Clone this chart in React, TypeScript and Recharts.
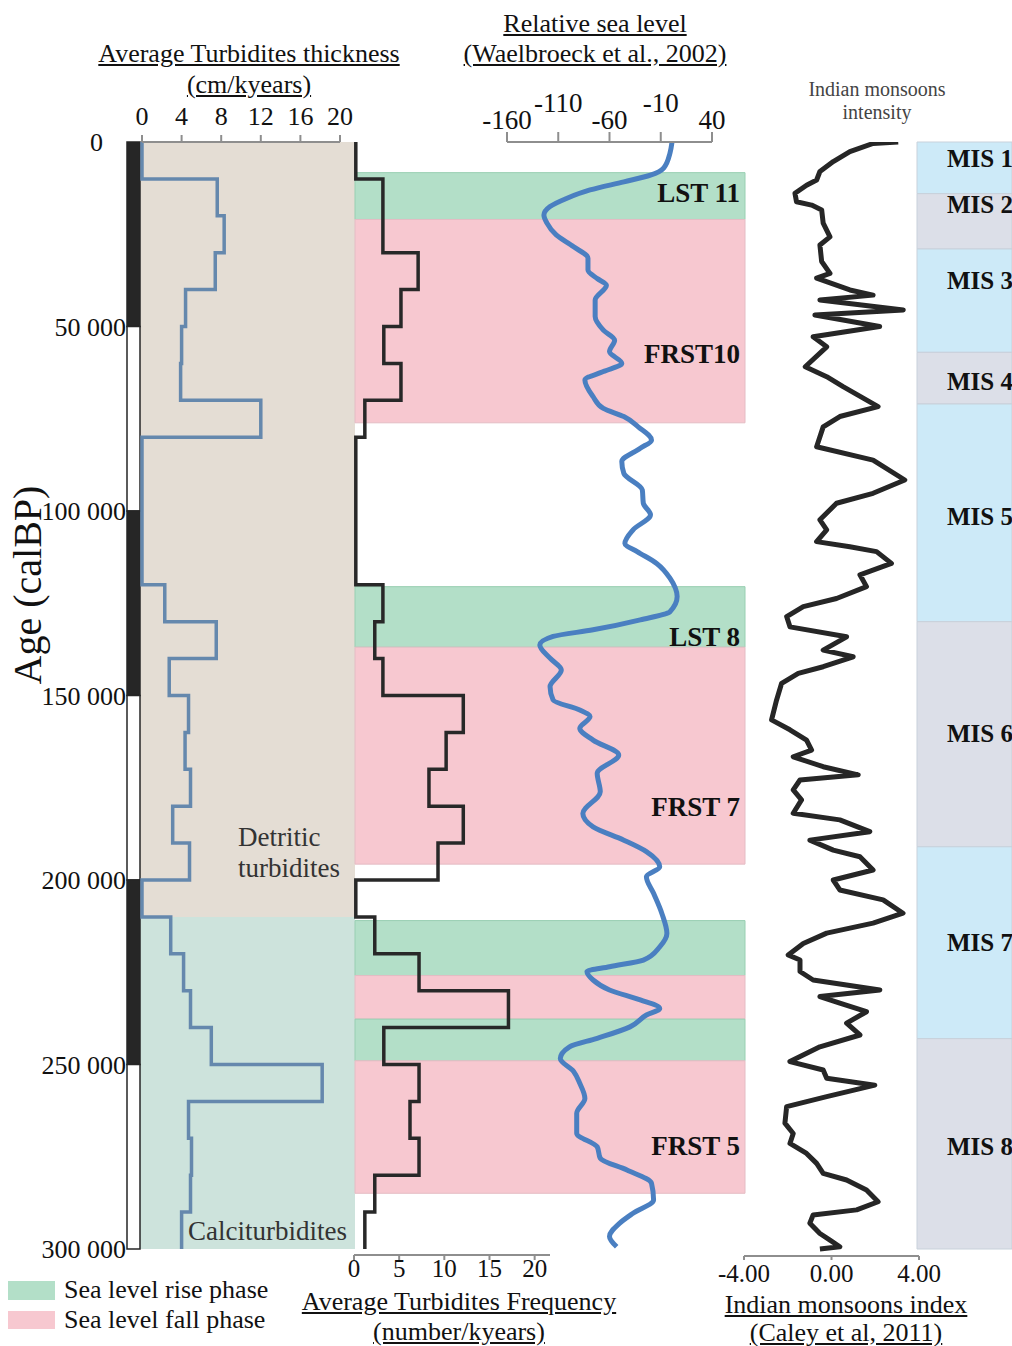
import React from "react";
import {
  ComposedChart,
  Line,
  XAxis,
  YAxis,
  ReferenceArea,
  ReferenceLine,
} from "recharts";

const W = 1012;
const H = 1346;
const TOP = 142; // y of age 0
const BOTTOM = 1249; // y of age 300 000
const AGE_MAX = 300000;
const serif = '"Liberation Serif", "Times New Roman", serif';

// ---- age axis / chronology bar ----
const ageTicks = [0, 50000, 100000, 150000, 200000, 250000, 300000];
const chronoBlocks = [
  { from: 0, to: 50000, dark: true },
  { from: 50000, to: 100000, dark: false },
  { from: 100000, to: 150000, dark: true },
  { from: 150000, to: 200000, dark: false },
  { from: 200000, to: 250000, dark: true },
  { from: 250000, to: 300000, dark: false },
];

// ---- lithology background ----
const lithology = [
  { name: "Detritic turbidites", from: 0, to: 210000 },
  { name: "Calciturbidites", from: 210000, to: 300000 },
];

// ---- 10 kyr bins ----
const binEdges = [
  0, 10000, 20000, 30000, 40000, 50000, 60000, 70000, 80000, 90000, 100000,
  110000, 120000, 130000, 140000, 150000, 160000, 170000, 180000, 190000,
  200000, 210000, 220000, 230000, 240000, 250000, 260000, 270000, 280000,
  290000, 300000,
];
// cm/kyears
const thickness = [
  0, 7.6, 8.3, 7.4, 4.4, 4.0, 3.9, 12.0, 0, 0, 0, 0, 2.3, 7.5, 2.75, 4.7, 4.35,
  4.9, 3.1, 4.8, 0, 2.9, 4.2, 4.9, 7.0, 18.2, 4.7, 5.0, 4.9, 4.0,
];
// number/kyears
const frequency = [
  0.2, 3.2, 3.2, 7.1, 5.2, 3.3, 5.2, 1.2, 0.2, 0.2, 0.2, 0.2, 3.2, 2.3, 3.2,
  12.1, 10.2, 8.3, 12.1, 9.3, 0.2, 2.3, 7.2, 17.1, 3.3, 7.2, 6.2, 7.2, 2.3, 1.2,
];

// ---- sea level phases ----
const seqBands = [
  { phase: "rise", from: 8300, to: 21000 },
  { phase: "fall", from: 21000, to: 76100 },
  { phase: "rise", from: 120500, to: 136900 },
  { phase: "fall", from: 136900, to: 195700 },
  { phase: "rise", from: 211000, to: 225900 },
  { phase: "fall", from: 225900, to: 237700 },
  { phase: "rise", from: 237700, to: 249000 },
  { phase: "fall", from: 249000, to: 284900 },
];
const seqLabels = [
  { name: "LST 11", age: 13600 },
  { name: "FRST10", age: 57200 },
  { name: "LST 8", age: 134000 },
  { name: "FRST 7", age: 180000 },
  { name: "FRST 5", age: 271800 },
];

// ---- relative sea level (Waelbroeck et al., 2002) ----
const seaAge = [
  0, 3000, 7000, 9000, 10800, 13000, 15300, 17500, 19800, 22000, 25200, 28400,
  31500, 34700, 37000, 38800, 42800, 47300, 51000, 53700, 56800, 60000, 62200,
  64500, 69000, 72200, 74400, 77200, 80800, 83000, 86600, 89800, 94300, 97900,
  101000, 105100, 108800, 111000, 114200, 118200, 123200, 127300, 129500,
  132200, 134000, 136300, 139900, 143100, 147600, 151200, 153900, 155700,
  158900, 162100, 166100, 171100, 176100, 182000, 185600, 189200, 192300,
  196400, 199100, 203600, 209000, 214500, 218100, 221700, 223500, 224800,
  227100, 229800, 232500, 234800, 236600, 239800, 242900, 245200, 248400,
  251900, 255100, 259200, 263200, 268600, 272300, 275400, 278600, 282200,
  286700, 290300, 293000, 296600, 299400,
];
const seaLevel = [
  1, -1, -7, -20, -46, -79, -102, -118, -124, -121, -112, -95, -81, -81, -72,
  -63, -74, -74, -66, -55, -60, -48, -66, -84, -76, -66, -46, -32, -19, -30,
  -48, -46, -28, -27, -20, -37, -45, -33, -14, -1, 6, -1, -30, -76, -115, -128,
  -118, -107, -118, -115, -89, -79, -89, -76, -51, -72, -69, -86, -76, -46,
  -24, -11, -24, -17, -9, -4, -11, -27, -60, -82, -76, -60, -30, -11, -24, -40,
  -72, -99, -108, -95, -89, -84, -92, -92, -72, -69, -43, -19, -17, -37, -50,
  -60, -53,
];

// ---- Indian monsoon index (Caley et al, 2011) ----
const monsoonAge = [
  0, 400, 2600, 5300, 8000, 10300, 11700, 13900, 16200, 17100, 18400, 22000,
  25700, 27900, 32400, 35600, 36900, 40100, 41500, 42800, 45500, 46900, 50000,
  52800, 55500, 60900, 63600, 66300, 71700, 74400, 77200, 82600, 86200, 91600,
  95200, 97900, 102400, 105100, 108300, 109700, 111000, 114200, 117300, 120500,
  123700, 125900, 128600, 131400, 134100, 137700, 139500, 142200, 144000,
  146700, 151200, 156600, 159300, 162100, 164800, 166600, 169300, 171500,
  172900, 175600, 178300, 181900, 183700, 186900, 189200, 191900, 193700,
  197300, 200000, 202700, 205400, 209000, 211700, 214400, 217200, 220300,
  221700, 224800, 227100, 229800, 231600, 233400, 235700, 238800, 242000,
  245200, 249200, 251500, 253700, 255600, 258700, 261400, 265900, 268700,
  271400, 274100, 276800, 279500, 281300, 284000, 287200, 289400, 290800,
  293000, 295800, 297600, 299400, 300000,
];
const monsoonIdx = [
  3.05, 1.9, 0.84, 0.08, -0.53, -0.68, -1.14, -1.67, -1.6, -0.91, -0.45, -0.38,
  -0.07, -0.53, -0.45, -0.07, -0.68, 0.84, 1.9, -0.53, 3.28, -0.76, 2.2, -0.84,
  -0.22, -1.2, -0.22, 0.53, 2.13, 0.38, -0.38, -0.68, 1.9, 3.35, 1.9, 0.23,
  -0.53, -0.22, -0.68, 0.84, 2.06, 2.74, 1.3, 1.6, 0.23, -1.29, -2.05, -1.9,
  0.69, -0.38, 0.99, -0.38, -1.52, -2.28, -2.51, -2.74, -1.9, -1.14, -0.91,
  -1.75, -0.38, 1.22, -1.44, -1.75, -1.37, -1.75, 0.38, 1.75, -0.99, 0.08, 1.3,
  1.9, 0.08, 0.38, 2.36, 3.27, 1.9, -0.22, -1.29, -1.98, -1.44, -1.44, -0.84,
  2.21, -0.53, 0.38, 1.6, 0.69, 1.3, -0.53, -1.9, -0.38, -0.22, 1.98, -0.22,
  -2.05, -2.13, -1.75, -1.9, -1.14, -0.68, -0.38, 0.69, 1.6, 2.13, 1.15, -0.84,
  -0.99, -0.53, -0.07, 0.38, -0.53,
];

// ---- marine isotope stages ----
const misStages = [
  { name: "MIS 1", from: 0, to: 14000 },
  { name: "MIS 2", from: 14000, to: 29000 },
  { name: "MIS 3", from: 29000, to: 57000 },
  { name: "MIS 4", from: 57000, to: 71000 },
  { name: "MIS 5", from: 71000, to: 130000 },
  { name: "MIS 6", from: 130000, to: 191000 },
  { name: "MIS 7", from: 191000, to: 243000 },
  { name: "MIS 8", from: 243000, to: 300000 },
];
const misLabelAge = [4300, 16800, 37400, 64800, 101400, 160200, 216800, 272000];

// ---- derived tables ----
const stepRows = (values: number[]) => {
  const rows: { age: number; v: number }[] = [];
  values.forEach((v, i) => {
    rows.push({ age: binEdges[i], v });
    rows.push({ age: binEdges[i + 1], v });
  });
  return rows;
};
const thicknessRows = stepRows(thickness);
const frequencyRows = stepRows(frequency);
const seaRows = seaAge.map((age, i) => ({ age, v: seaLevel[i] }));
const monsoonRows = monsoonAge.map((age, i) => ({ age, v: monsoonIdx[i] }));
const ageRows = chronoBlocks.map((b) => ({ age: b.from, v: 0.5 }));

const phaseFill: Record<string, string> = { rise: "#b3dfc8", fall: "#f7c8d0" };
const phaseStroke: Record<string, string> = { rise: "#98cfb2", fall: "#e4bcc4" };
const lithoFill = ["#e4ddd4", "#cde3dc"];
const misFill = ["#cdeaf8", "#dcdfe8"];

const fmtAge = (v: number) => String(v).replace(/\B(?=(\d{3})+(?!\d))/g, " ");

// plot area in page pixels -> chart margin
const box = (
  left: number,
  right: number,
  top = TOP,
  bottom = BOTTOM
) => ({ left, right: W - right, top, bottom: H - bottom });

const layer: React.CSSProperties = { position: "absolute", left: 0, top: 0 };
const axisStroke = { stroke: "#8e8e8e", strokeWidth: 2 };

const AgeTick = (p: any) => {
  const v = p.payload.value;
  return (
    <text
      x={v === 0 ? p.x - 23 : p.x}
      y={p.y + 9}
      textAnchor="end"
      fontSize={26}
      fontFamily={serif}
      fill="#111"
    >
      {fmtAge(v)}
    </text>
  );
};

const TopTick = (p: any) => (
  <text x={p.x} y={p.y} textAnchor="middle" fontSize={26} fontFamily={serif} fill="#111">
    {p.payload.value}
  </text>
);

const SeaTick = (p: any) => (
  <text
    x={p.x}
    y={p.index % 2 === 1 ? p.y - 17 : p.y}
    textAnchor="middle"
    fontSize={27}
    fontFamily={serif}
    fill="#111"
  >
    {p.payload.value}
  </text>
);

const FreqTick = (p: any) => (
  <text x={p.x} y={p.y + 15} textAnchor="middle" fontSize={25} fontFamily={serif} fill="#111">
    {p.payload.value}
  </text>
);

const MonsoonTick = (p: any) => (
  <text x={p.x} y={p.y + 20} textAnchor="middle" fontSize={25} fontFamily={serif} fill="#111">
    {Number(p.payload.value).toFixed(2)}
  </text>
);

const AgeAxis = ({ max = AGE_MAX }: { max?: number }) => (
  <YAxis type="number" dataKey="age" domain={[0, max]} allowDataOverflow hide />
);

// hidden 0..1 x axis + invisible series, used by the background layers
const BgAxes = () => [
  <XAxis key="x" type="number" domain={[0, 1]} allowDataOverflow hide />,
  <YAxis key="y" type="number" dataKey="age" domain={[0, AGE_MAX]} allowDataOverflow hide />,
  <Line key="l" dataKey="v" stroke="none" dot={false} isAnimationActive={false} />,
];

const Txt = ({
  x,
  y,
  lines,
  size = 26,
  lh = 30,
  underline = false,
  align = "center",
  color = "#111",
}: {
  x: number;
  y: number;
  lines: string[];
  size?: number;
  lh?: number;
  underline?: boolean;
  align?: "center" | "left";
  color?: string;
}) => (
  <div
    style={{
      position: "absolute",
      left: align === "center" ? x - 250 : x,
      top: y - lh / 2,
      width: align === "center" ? 500 : 400,
      textAlign: align,
      fontFamily: serif,
      fontSize: size,
      lineHeight: `${lh}px`,
      color,
      whiteSpace: "nowrap",
    }}
  >
    {lines.map((l) => (
      <div key={l}>
        <span style={{ textDecoration: underline ? "underline" : "none", textUnderlineOffset: 2 }}>
          {l}
        </span>
      </div>
    ))}
  </div>
);

export default function App() {
  const freqAxisY = 1255;
  const monsoonAxisY = 1256;
  const freqMax = (AGE_MAX * (freqAxisY - TOP)) / (BOTTOM - TOP);
  const monsoonMax = (AGE_MAX * (monsoonAxisY - TOP)) / (BOTTOM - TOP);

  return (
    <div
      style={{
        position: "absolute",
        left: 0,
        top: 0,
        width: W,
        height: H,
        background: "#fff",
        overflow: "hidden",
      }}
    >
      {/* lithology background */}
      <div style={layer}>
        <ComposedChart layout="vertical" width={W} height={H} data={ageRows} margin={box(140, 355)}>
          {BgAxes()}
          {lithology.map((l, i) => (
            <ReferenceArea
              key={l.name}
              y1={l.from}
              y2={l.to}
              fill={lithoFill[i]}
              fillOpacity={1}
              stroke="none"
              ifOverflow="visible"
            />
          ))}
        </ComposedChart>
      </div>

      {/* sea level phase bands */}
      <div style={layer}>
        <ComposedChart layout="vertical" width={W} height={H} data={ageRows} margin={box(355, 745)}>
          {BgAxes()}
          {seqBands.map((b) => (
            <ReferenceArea
              key={b.from}
              y1={b.from}
              y2={b.to}
              fill={phaseFill[b.phase]}
              fillOpacity={1}
              stroke={phaseStroke[b.phase]}
              strokeWidth={1}
              ifOverflow="visible"
            />
          ))}
          {seqLabels.map((s) => (
            <ReferenceLine
              key={s.name}
              y={s.age}
              stroke="none"
              ifOverflow="visible"
              label={{
                value: s.name,
                position: "insideRight",
                offset: 5,
                fontSize: 27,
                fontWeight: "bold",
                fontFamily: serif,
                fill: "#111",
              }}
            />
          ))}
        </ComposedChart>
      </div>

      {/* MIS bands */}
      <div style={layer}>
        <ComposedChart layout="vertical" width={W} height={H} data={ageRows} margin={box(917, W)}>
          {BgAxes()}
          {misStages.map((m, i) => (
            <ReferenceArea
              key={m.name}
              y1={m.from}
              y2={m.to}
              fill={misFill[i % 2]}
              fillOpacity={1}
              stroke="#c8d1db"
              strokeWidth={1}
              ifOverflow="visible"
            />
          ))}
          {misStages.map((m, i) => (
            <ReferenceLine
              key={m.name + "l"}
              y={misLabelAge[i]}
              stroke="none"
              ifOverflow="visible"
              label={{
                value: m.name,
                position: "insideLeft",
                offset: 30,
                fontSize: 25,
                fontWeight: "bold",
                fontFamily: serif,
                fill: "#111",
              }}
            />
          ))}
        </ComposedChart>
      </div>

      {/* chronology bar + age axis */}
      <div style={layer}>
        <ComposedChart layout="vertical" width={W} height={H} data={ageRows} margin={box(0, 140)}>
          <XAxis type="number" domain={[0, 1]} allowDataOverflow hide />
          <YAxis
            type="number"
            dataKey="age"
            domain={[0, AGE_MAX]}
            allowDataOverflow
            width={127}
            ticks={ageTicks}
            interval={0}
            tickLine={false}
            axisLine={false}
            tickSize={0}
            tickMargin={1}
            tick={AgeTick}
          />
          <Line dataKey="v" stroke="none" dot={false} isAnimationActive={false} />
          {chronoBlocks.map((b) => (
            <ReferenceArea
              key={b.from}
              y1={b.from}
              y2={b.to}
              fill={b.dark ? "#262626" : "#ffffff"}
              fillOpacity={1}
              stroke="#262626"
              strokeWidth={1.5}
              ifOverflow="visible"
            />
          ))}
        </ComposedChart>
      </div>

      {/* turbidite thickness */}
      <div style={layer}>
        <ComposedChart layout="vertical" width={W} height={H} data={thicknessRows} margin={box(142, 340, TOP - 40)}>
          <XAxis
            type="number"
            orientation="top"
            domain={[0, 20]}
            ticks={[0, 4, 8, 12, 16, 20]}
            interval={0}
            height={40}
            axisLine={axisStroke}
            tickLine={axisStroke}
            tickSize={7}
            tickMargin={10}
            tick={TopTick}
          />
          <AgeAxis />
          <Line
            dataKey="v"
            type="linear"
            stroke="#6588ad"
            strokeWidth={3.5}
            dot={false}
            isAnimationActive={false}
          />
        </ComposedChart>
      </div>

      {/* turbidite frequency */}
      <div style={layer}>
        <ComposedChart
          layout="vertical"
          width={W}
          height={H}
          data={frequencyRows}
          margin={{ ...box(354, 550), bottom: H - freqAxisY - 40 }}
        >
          <XAxis
            type="number"
            orientation="bottom"
            domain={[0, 21.7]}
            ticks={[0, 5, 10, 15, 20]}
            interval={0}
            height={40}
            axisLine={axisStroke}
            tickLine={axisStroke}
            tickSize={5}
            tickMargin={2}
            tick={FreqTick}
          />
          <AgeAxis max={freqMax} />
          <Line
            dataKey="v"
            type="linear"
            stroke="#282828"
            strokeWidth={3.5}
            dot={false}
            isAnimationActive={false}
          />
        </ComposedChart>
      </div>

      {/* relative sea level */}
      <div style={layer}>
        <ComposedChart layout="vertical" width={W} height={H} data={seaRows} margin={box(507, 712, TOP - 50)}>
          <XAxis
            type="number"
            orientation="top"
            domain={[-160, 40]}
            ticks={[-160, -110, -60, -10, 40]}
            interval={0}
            height={50}
            axisLine={axisStroke}
            tickLine={axisStroke}
            tickSize={10}
            tickMargin={3}
            tick={SeaTick}
          />
          <AgeAxis />
          <Line
            dataKey="v"
            type="monotone"
            stroke="#4a7fc1"
            strokeWidth={5}
            dot={false}
            isAnimationActive={false}
          />
        </ComposedChart>
      </div>

      {/* monsoon index */}
      <div style={layer}>
        <ComposedChart
          layout="vertical"
          width={W}
          height={H}
          data={monsoonRows}
          margin={{ ...box(744, 919), bottom: H - monsoonAxisY - 40 }}
        >
          <XAxis
            type="number"
            orientation="bottom"
            domain={[-4, 4]}
            ticks={[-4, 0, 4]}
            interval={0}
            height={40}
            axisLine={axisStroke}
            tickLine={axisStroke}
            tickSize={4}
            tickMargin={2}
            tick={MonsoonTick}
          />
          <AgeAxis max={monsoonMax} />
          <Line
            dataKey="v"
            type="linear"
            stroke="#262626"
            strokeWidth={5}
            strokeLinejoin="round"
            dot={false}
            isAnimationActive={false}
          />
        </ComposedChart>
      </div>

      {/* titles and annotations */}
      <Txt x={249} y={53} lines={["Average Turbidites thickness", "(cm/kyears)"]} lh={31} underline />
      <Txt x={595} y={24} lines={["Relative sea level", "(Waelbroeck et al., 2002)"]} lh={30} underline />
      <Txt x={877} y={89} lines={["Indian monsoons", "intensity"]} size={20} lh={23} color="#444" />
      <Txt x={459} y={1302} lines={["Average Turbidites Frequency", "(number/kyears)"]} lh={30} underline />
      <Txt x={846} y={1305} lines={["Indian monsoons index", "(Caley et al, 2011)"]} lh={28} underline />
      <Txt x={238} y={837} lines={["Detritic", "turbidites"]} size={27} lh={31} align="left" color="#333" />
      <Txt x={188} y={1231} lines={["Calciturbidites"]} size={27} lh={30} align="left" color="#333" />

      <div
        style={{
          position: "absolute",
          left: 28 - 150,
          top: 585 - 22,
          width: 300,
          height: 44,
          lineHeight: "44px",
          textAlign: "center",
          fontFamily: serif,
          fontSize: 40,
          color: "#111",
          transform: "rotate(-90deg)",
        }}
      >
        Age (calBP)
      </div>

      {/* legend */}
      <div style={{ position: "absolute", left: 8, top: 1281, width: 47, height: 19, background: phaseFill.rise }} />
      <div style={{ position: "absolute", left: 8, top: 1311, width: 47, height: 18, background: phaseFill.fall }} />
      <Txt x={64} y={1290} lines={["Sea level rise phase"]} lh={30} align="left" />
      <Txt x={64} y={1320} lines={["Sea level fall phase"]} lh={30} align="left" />
    </div>
  );
}
